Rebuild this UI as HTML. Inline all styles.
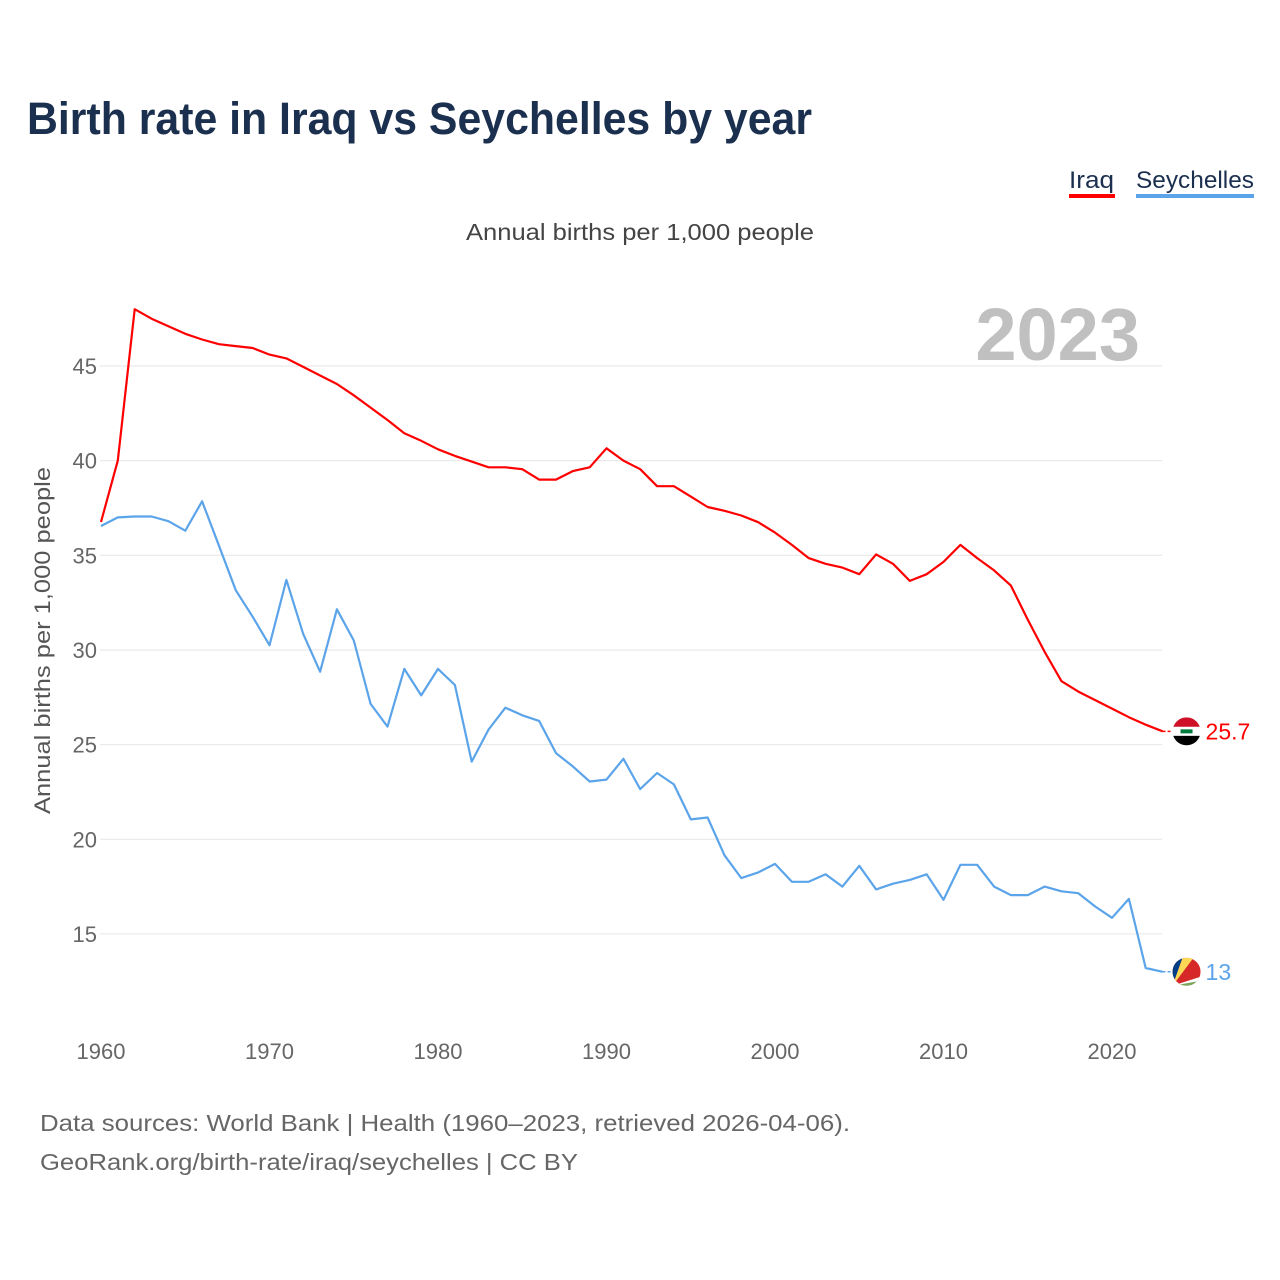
<!DOCTYPE html>
<html><head><meta charset="utf-8">
<style>
body{margin:0;background:#fff;width:1280px;height:1280px;overflow:hidden;font-family:"Liberation Sans",sans-serif;}
svg{display:block}
</style></head>
<body>
<svg id="chart" width="1280" height="1280">
<defs>
<clipPath id="flagclip-iraq"><circle cx="1186" cy="731" r="14"/></clipPath>
</defs>
<text x="27" y="134" font-size="45" font-weight="bold" fill="#1b2f4e" textLength="785" lengthAdjust="spacingAndGlyphs">Birth rate in Iraq vs Seychelles by year</text>
<g>
<text x="1069" y="188" font-size="24" fill="#1b2f4e" textLength="45" lengthAdjust="spacingAndGlyphs">Iraq</text>
<rect x="1069" y="194" width="46" height="4" fill="#ff0000"/>
<text x="1136" y="188" font-size="24" fill="#1b2f4e" textLength="118" lengthAdjust="spacingAndGlyphs">Seychelles</text>
<rect x="1136" y="194" width="118" height="4" fill="#5ba4ea"/>
</g>
<text x="466" y="240" font-size="23" fill="#444" textLength="348" lengthAdjust="spacingAndGlyphs">Annual births per 1,000 people</text>
<text x="1140" y="360" font-size="74" font-weight="bold" fill="#c0c0c0" text-anchor="end">2023</text>
<text transform="translate(50,814) rotate(-90)" font-size="22" fill="#555" textLength="347" lengthAdjust="spacingAndGlyphs">Annual births per 1,000 people</text>
<g id="grid"></g><g id="yticks"></g><g id="xticks"></g><g id="series"></g><g id="ends"></g>
<text x="40" y="1131" font-size="23" fill="#666" textLength="810" lengthAdjust="spacingAndGlyphs">Data sources: World Bank | Health (1960–2023, retrieved 2026-04-06).</text>
<text x="40" y="1170" font-size="23" fill="#666" textLength="538" lengthAdjust="spacingAndGlyphs">GeoRank.org/birth-rate/iraq/seychelles | CC BY</text>
</svg>
<script>
const years=[];for(let y=1960;y<=2023;y++)years.push(y);
const iraq=[36.76,40.0,48.0,47.5,47.1,46.7,46.4,46.15,46.05,45.95,45.6,45.4,44.95,44.5,44.05,43.45,42.8,42.15,41.45,41.05,40.6,40.25,39.95,39.65,39.65,39.55,39.0,39.0,39.45,39.65,40.65,40.0,39.55,38.65,38.65,38.1,37.55,37.35,37.1,36.75,36.2,35.55,34.85,34.55,34.35,34.0,35.05,34.55,33.65,34.0,34.65,35.55,34.85,34.2,33.4,31.6,29.9,28.35,27.8,27.35,26.9,26.45,26.05,25.7];
const seychelles=[36.55,37.0,37.05,37.05,36.8,36.3,37.85,35.5,33.15,31.75,30.25,33.7,30.85,28.85,32.15,30.5,27.15,25.95,29.0,27.6,29.0,28.15,24.1,25.8,26.95,26.55,26.25,24.55,23.85,23.05,23.15,24.25,22.65,23.5,22.9,21.05,21.15,19.15,17.95,18.25,18.7,17.75,17.75,18.15,17.5,18.6,17.35,17.65,17.85,18.15,16.8,18.65,18.65,17.5,17.05,17.05,17.5,17.25,17.15,16.45,15.85,16.85,13.2,13.0];
const yTicks=[15,20,25,30,35,40,45];
const xTicks=[1960,1970,1980,1990,2000,2010,2020];
const endLabels=["25.7","13"];
const NS="http://www.w3.org/2000/svg";
const X=v=>101+(v-1960)*16.85;
const Y=v=>366+(45-v)*18.93;
function mk(tag,attrs,parent){const e=document.createElementNS(NS,tag);for(const k in attrs)e.setAttribute(k,attrs[k]);parent.appendChild(e);return e;}
const grid=document.getElementById('grid'),yt=document.getElementById('yticks'),xt=document.getElementById('xticks'),ser=document.getElementById('series'),ends=document.getElementById('ends');
const defs=document.querySelector('defs');
yTicks.forEach(t=>{
 const l=mk('line',{x1:100,x2:1162,y1:Y(t),y2:Y(t),stroke:'#e6e6e6','stroke-width':1},grid);
 
 
 const tx=mk('text',{x:97,y:Y(t)+8,'font-size':22,fill:'#666','text-anchor':'end'},yt);
 tx.textContent=t;
 
 
});
xTicks.forEach(t=>{
 const tx=mk('text',{x:X(t),y:1059,'font-size':22,fill:'#666','text-anchor':'middle'},xt);
 tx.textContent=t;
 
 
});
function line(vals,color,name){
 const d=vals.map((v,i)=>(i?'L':'M')+X(years[i]).toFixed(1)+','+Y(v).toFixed(1)).join('');
 const p=mk('path',{d:d,fill:'none',stroke:color,'stroke-width':2.2,'stroke-linejoin':'round'},ser);
 
 
}
line(iraq,'#ff0000','line-iraq');
line(seychelles,'#5ba4ea','line-seychelles');
function endMark(v,color,label,name,flag){
 const x=X(2023),y=Y(v);
 mk('line',{x1:x,x2:x+10,y1:y,y2:y,stroke:color,'stroke-width':1.5,'stroke-dasharray':'3,2'},ends);
 const cx=x+24;
 const cp=mk('clipPath',{id:'clip-'+name},defs);
 mk('circle',{cx:cx,cy:y,r:14},cp);
 const g=mk('g',{'clip-path':'url(#clip-'+name+')'},ends);
 
 
 if(flag==='iraq'){
  mk('rect',{x:cx-14,y:y-14,width:28,height:9.5,fill:'#ce1126'},g);
  mk('rect',{x:cx-14,y:y-4.5,width:28,height:9,fill:'#fff'},g);
  mk('rect',{x:cx-14,y:y+4.5,width:28,height:9.5,fill:'#000'},g);
  mk('rect',{x:cx-6,y:y-2,width:12,height:4,fill:'#007a3d'},g);
 }else{
  mk('rect',{x:cx-14,y:y-14,width:28,height:28,fill:'#d62828'},g);
  mk('path',{d:`M${cx-14},${y+14} L${cx-14},${y-14} L${cx-4},${y-14} Z`,fill:'#003f87'},g);
  mk('path',{d:`M${cx-14},${y+14} L${cx-4},${y-14} L${cx+7},${y-14} Z`,fill:'#fcd856'},g);
  mk('path',{d:`M${cx-14},${y+14} L${cx+14},${y+5} L${cx+14},${y+14} Z`,fill:'#fff'},g);
  mk('path',{d:`M${cx-14},${y+14} L${cx+14},${y+9} L${cx+14},${y+14} Z`,fill:'#7aa65a'},g);
 }
 const t=mk('text',{x:cx+19,y:y+8,'font-size':23,fill:color},ends);
 t.textContent=label;
 
 
}
endMark(iraq[iraq.length-1],'#ff0000',endLabels[0],'iraq','iraq');
endMark(seychelles[seychelles.length-1],'#5ba4ea',endLabels[1],'seychelles','sey');
</script>
</body></html>
